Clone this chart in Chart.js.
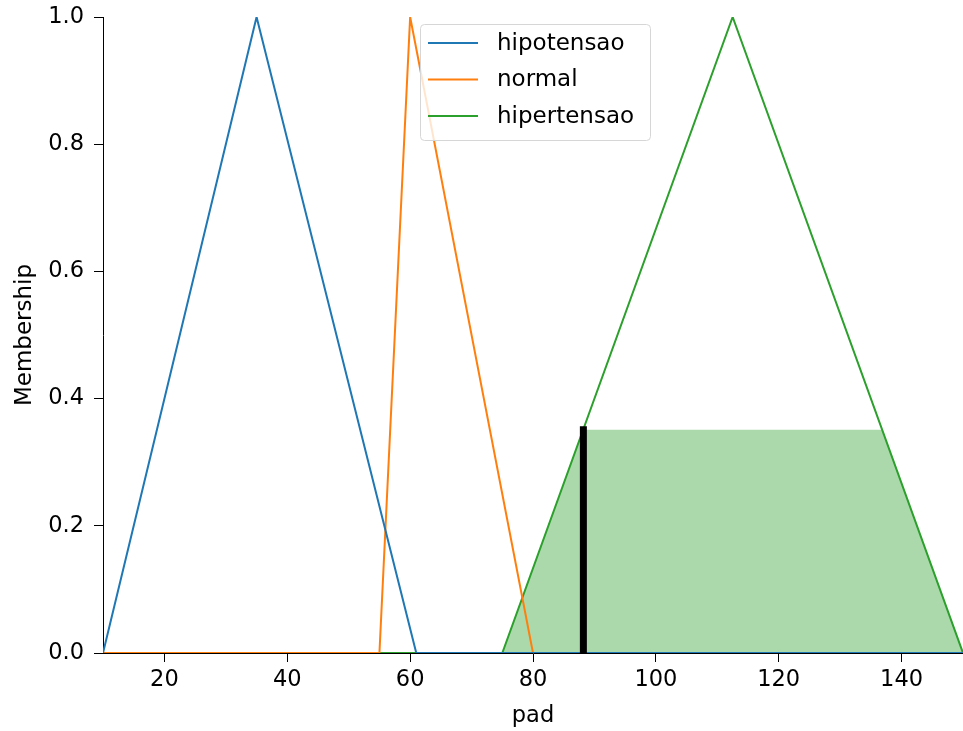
<!DOCTYPE html>
<html>
<head>
<meta charset="utf-8">
<script src="https://cdn.jsdelivr.net/npm/chart.js@4/dist/chart.umd.min.js"></script>
<style>
  html, body { margin: 0; padding: 0; background: #fff; }
  #wrap { width: 963px; height: 731px; }
</style>
</head>
<body>
<div id="wrap"><canvas id="grafico"></canvas></div>
<script>
// datos
const nombres = ["hipotensao", "normal", "hipertensao"];
const colores = ["#1f77b4", "#ff7f0e", "#2ca02c"];

const hipoX = [10, 35, 61, 150];
const hipoY = [0, 1, 0, 0];
const normalX = [10, 55, 60, 80, 150];
const normalY = [0, 0, 1, 0, 0];
const hiperX = [10, 75, 112.5, 150];
const hiperY = [0, 0, 1, 0];

// area activada (agregada) y valor defuzzificado
const areaX = [75, 88.2, 136.8, 150];
const areaY = [0, 0.351, 0.351, 0];
const salidaX = [88.2, 88.2];
const salidaY = [0, 0.351];

const xTicks = [20, 40, 60, 80, 100, 120, 140];
const yTicks = [0, 0.2, 0.4, 0.6, 0.8, 1.0];

const fuente = { family: "DejaVu Sans", size: 22.5 };
const fuenteTitulo = { family: "DejaVu Sans", size: 23 };

function puntos(xs, ys) {
    return xs.map((x, i) => ({ x: x, y: ys[i] }));
}

const leyenda = {
    id: "leyenda",
    afterDraw(chart) {
        const ctx = chart.ctx;
        ctx.save();
        const bx = 420, by = 24, bw = 230, bh = 116;
        ctx.beginPath();
        ctx.roundRect(bx + 0.5, by + 0.5, bw, bh, 4);
        ctx.fillStyle = "rgba(255,255,255,0.8)";
        ctx.fill();
        ctx.strokeStyle = "#d6d6d6";
        ctx.lineWidth = 1;
        ctx.stroke();
        ctx.font = "23px 'DejaVu Sans'";
        ctx.textBaseline = "middle";
        ctx.fillStyle = "#000";
        nombres.forEach((n, i) => {
            const y = 43 + i * 36.5;
            ctx.beginPath();
            ctx.moveTo(428, y);
            ctx.lineTo(478, y);
            ctx.strokeStyle = colores[i];
            ctx.lineWidth = 2;
            ctx.stroke();
            ctx.fillText(n, 497, y + 1);
        });
        ctx.restore();
    }
};

const canvas1 = document.getElementById("grafico").getContext("2d");
let chart1 = new Chart(canvas1, {
    type: "scatter",
    data: {
        datasets: [
            { label: "salida", data: puntos(salidaX, salidaY), showLine: true, borderColor: "#000", borderWidth: 7, borderCapStyle: "square", pointRadius: 0, order: 0 },
            { label: nombres[0], data: puntos(hipoX, hipoY), showLine: true, borderColor: colores[0], borderWidth: 2, pointRadius: 0, order: 1 },
            { label: nombres[1], data: puntos(normalX, normalY), showLine: true, borderColor: colores[1], borderWidth: 2, pointRadius: 0, order: 1 },
            { label: nombres[2], data: puntos(hiperX, hiperY), showLine: true, borderColor: colores[2], borderWidth: 2, pointRadius: 0, order: 1 },
            { label: "area", data: puntos(areaX, areaY), showLine: true, borderWidth: 0, borderColor: "rgba(0,0,0,0)", backgroundColor: "rgba(44,160,44,0.4)", fill: "origin", pointRadius: 0, order: 3 }
        ]
    },
    options: {
        responsive: true,
        maintainAspectRatio: false,
        animation: false,
        layout: { padding: { top: 17, right: 0, left: 0, bottom: 0 } },
        plugins: { legend: { display: false }, tooltip: { enabled: false } },
        scales: {
            x: {
                type: "linear", min: 10, max: 150,
                afterBuildTicks: (s) => { s.ticks = xTicks.map(v => ({ value: v })); },
                afterFit: (s) => { s.height = 78; s.paddingLeft = 0; s.paddingRight = 0; },
                ticks: { font: fuente, color: "#000", padding: 5, maxRotation: 0 },
                grid: { drawOnChartArea: false, drawTicks: true, tickLength: 9, tickColor: "#000" },
                border: { display: true, color: "#000", width: 1 },
                title: { display: true, text: "pad", font: fuente, color: "#000", padding: { top: 0, bottom: 1.5 } }
            },
            y: {
                type: "linear", min: 0, max: 1,
                afterBuildTicks: (s) => { s.ticks = yTicks.map(v => ({ value: v })); },
                afterFit: (s) => { s.width = 103; s.paddingTop = 0; s.paddingBottom = 0; },
                ticks: { font: fuente, color: "#000", padding: 10, callback: (v) => v.toFixed(1) },
                grid: { drawOnChartArea: false, drawTicks: true, tickLength: 9, tickColor: "#000" },
                border: { display: true, color: "#000", width: 1 },
                title: { display: true, text: "Membership", font: fuenteTitulo, color: "#000", padding: { top: 11, bottom: 0 } }
            }
        }
    },
    plugins: [leyenda]
});
</script>
</body>
</html>
